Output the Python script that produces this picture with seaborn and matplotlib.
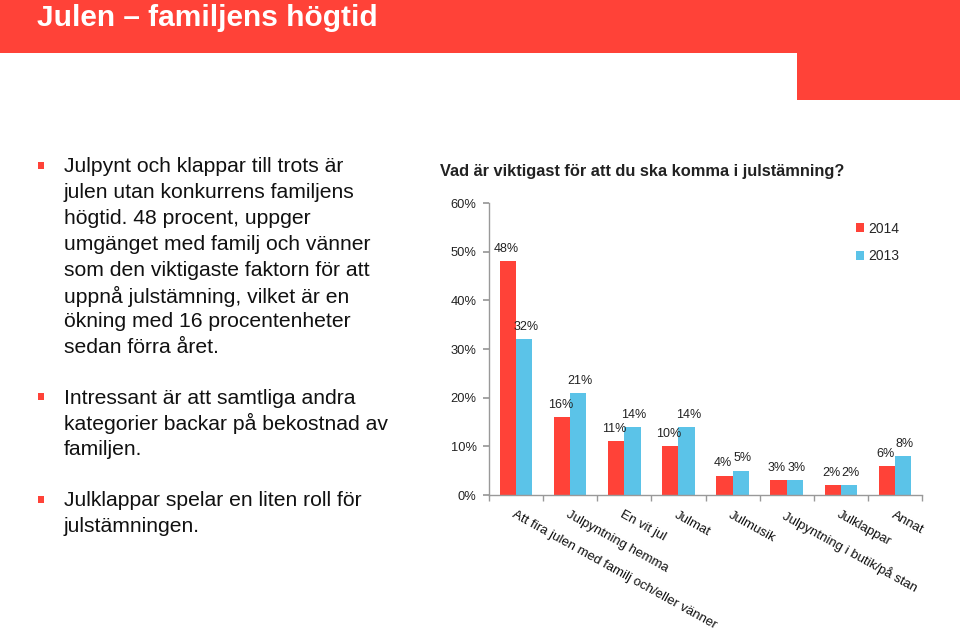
import matplotlib
matplotlib.use("Agg")
import matplotlib.pyplot as plt
from matplotlib.patches import Rectangle
from matplotlib.ticker import PercentFormatter, FixedLocator
import seaborn as sns
import pandas as pd

categories = [
    "Att fira julen med familj och/eller vänner",
    "Julpyntning hemma",
    "En vit jul",
    "Julmat",
    "Julmusik",
    "Julpyntning i butik/på stan",
    "Julklappar",
    "Annat",
]
values_2014 = [48, 16, 11, 10, 4, 3, 2, 6]
values_2013 = [32, 21, 14, 14, 5, 3, 2, 8]
years = ["2014", "2013"]

title = "Julen – familjens högtid"
chart_title = "Vad är viktigast för att du ska komma i julstämning?"
bullets = [
    ["Julpynt och klappar till trots är", "julen utan konkurrens familjens",
     "högtid. 48 procent, uppger", "umgänget med familj och vänner",
     "som den viktigaste faktorn för att", "uppnå julstämning, vilket är en",
     "ökning med 16 procentenheter", "sedan förra året."],
    ["Intressant är att samtliga andra", "kategorier backar på bekostnad av",
     "familjen."],
    ["Julklappar spelar en liten roll för", "julstämningen."],
]

RED = "#FF4238"
BLUE = "#5BC3E8"

df = pd.DataFrame({
    "Kategori": categories * 2,
    "År": [years[0]] * len(categories) + [years[1]] * len(categories),
    "Andel": values_2014 + values_2013,
})

sns.set_theme(style="white")
plt.rcParams["font.family"] = ["Liberation Sans", "DejaVu Sans"]

fig = plt.figure(figsize=(9.6, 6.3), dpi=100)

# header bands
fig.patches.append(Rectangle((0, 1 - 53 / 630), 1, 53 / 630, transform=fig.transFigure,
                             facecolor=RED, edgecolor="none", zorder=0))
fig.patches.append(Rectangle((797 / 960, 1 - 100 / 630), 1 - 797 / 960, 100 / 630,
                             transform=fig.transFigure, facecolor=RED, edgecolor="none", zorder=0))
fig.text(37 / 960, 1 - 18 / 630, title, color="white", fontsize=21.5, fontweight="bold",
         va="center", ha="left")

# bullets
line_h = 25.8
y_starts = [165, 396, 499]
for lines, ys in zip(bullets, y_starts):
    fig.patches.append(Rectangle((38 / 960, 1 - (ys + 4) / 630), 6 / 960, 7 / 630,
                                 transform=fig.transFigure, facecolor=RED, edgecolor="none"))
    for i, ln in enumerate(lines):
        fig.text(64 / 960, 1 - (ys + i * line_h) / 630, ln, fontsize=15.2,
                 color="#111111", va="center_baseline", ha="left")

# chart
ax = fig.add_axes([489 / 960, 1 - 495 / 630, (922 - 489) / 960, (495 - 203) / 630])
sns.barplot(data=df, x="Kategori", y="Andel", hue="År", hue_order=years,
            palette=[RED, BLUE], width=0.6, gap=0, saturation=1, ax=ax,
            edgecolor="none", legend=True)
ax.set_ylim(0, 60)
ax.set_xlim(-0.5, len(categories) - 0.5)
ax.yaxis.set_major_locator(FixedLocator([0, 10, 20, 30, 40, 50, 60]))
ax.yaxis.set_major_formatter(PercentFormatter(decimals=0))
ax.set_xlabel("")
ax.set_ylabel("")
for s in ["top", "right"]:
    ax.spines[s].set_visible(False)
for s in ["left", "bottom"]:
    ax.spines[s].set_color("#999999")
    ax.spines[s].set_linewidth(1)
ax.tick_params(axis="y", left=True, length=4, color="#999999", labelsize=9.3, pad=5,
               labelcolor="#222222")
ax.set_xticks(range(len(categories)))
ax.set_xticklabels(categories, rotation=-29, ha="left", va="top",
                   rotation_mode="anchor", fontsize=9.5, color="#111111")
ax.tick_params(axis="x", bottom=False, pad=4)
ax.set_xticks([i + 0.5 for i in range(-1, len(categories))], minor=True)
ax.tick_params(axis="x", which="minor", bottom=True, length=4, color="#999999")

for ci, cont in enumerate(ax.containers):
    dx = -1.2 if ci == 0 else 1.2
    for bar in cont:
        h = bar.get_height()
        ax.annotate(f"{h:.0f}%", (bar.get_x() + bar.get_width() / 2, h),
                    xytext=(dx, 4.5), textcoords="offset points", ha="center",
                    va="bottom", fontsize=9, color="#222222")

ax.legend(loc="upper left", bbox_to_anchor=((850 - 489) / (922 - 489), 1 - (216 - 203) / (495 - 203)),
          frameon=False, fontsize=10, handlelength=0.6, handleheight=0.6,
          handletextpad=0.3, labelspacing=1.0, borderaxespad=0)

fig.text(440 / 960, 1 - 172 / 630, chart_title, fontsize=11.8, fontweight="bold",
         color="#222222", va="center", ha="left")

fig.savefig("out.png", dpi=100)
